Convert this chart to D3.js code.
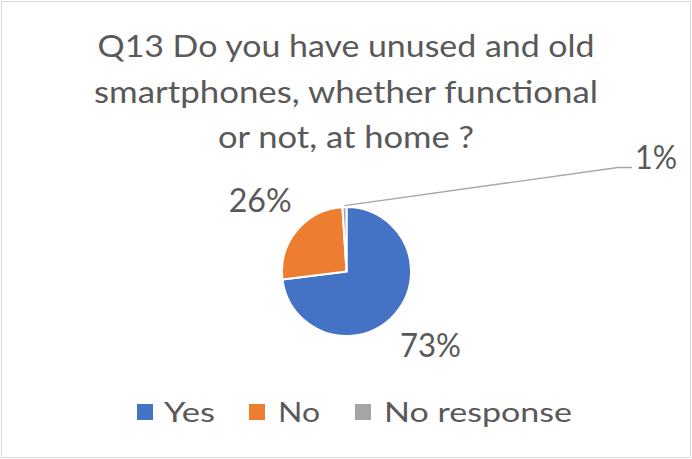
<!DOCTYPE html>
<html>
<head>
<meta charset="utf-8">
<script src="https://cdn.jsdelivr.net/npm/d3@7"></script>
<style>
  html, body { margin: 0; padding: 0; background: #fff; }
  svg { display: block; }
  text { font-family: Lato, "Open Sans", sans-serif; fill: #595959; }
</style>
</head>
<body>
<svg id="chart" width="692" height="459"></svg>
<script>
// ---- data ----
const categories = ["Yes", "No", "No response"];
const values = [73, 26, 1];
const labels = ["73%", "26%", "1%"];
const colors = ["#4472C4", "#ED7D31", "#A5A5A5"];
const titleLines = [
  "Q13 Do you have unused and old",
  "smartphones, whether functional",
  "or not, at home ?"
];

// ---- layout ----
const W = 692, H = 459;
const svg = d3.select("#chart");

svg.append("rect")
  .attr("x", 1.5).attr("y", 1.5)
  .attr("width", W - 3).attr("height", H - 3)
  .attr("fill", "#fff").attr("stroke", "#d9d9d9").attr("stroke-width", 1);

// title
const titleWidths = [497, 504, 256];
const titleBaselines = [57, 102.5, 148];
titleLines.forEach((t, i) => {
  svg.append("text")
    .attr("x", 346).attr("y", titleBaselines[i])
    .attr("text-anchor", "middle")
    .attr("font-size", 31)
    .attr("textLength", titleWidths[i])
    .attr("lengthAdjust", "spacingAndGlyphs")
    .text(t);
});

// pie
const cx = 346.5, cy = 271.5, R = 64.5;
const pie = d3.pie().sort(null).startAngle(0).endAngle(2 * Math.PI).value(d => d);
const arcs = pie(values);
const arc = d3.arc().innerRadius(0).outerRadius(R);
const g = svg.append("g").attr("transform", `translate(${cx},${cy})`);
g.selectAll("path").data(arcs).enter().append("path")
  .attr("d", arc)
  .attr("fill", (d, i) => colors[i])
  .attr("stroke", "#fff").attr("stroke-width", 2).attr("stroke-linejoin", "round");

// data labels
const labelR = 112;
const labelFont = 32;
const capH = labelFont * 0.72;
const labelWidths = [61, 63, 42];
arcs.forEach((d, i) => {
  const a = (d.startAngle + d.endAngle) / 2;
  if (i < 2) {
    const lx = Math.sin(a) * labelR, ly = -Math.cos(a) * labelR;
    g.append("text")
      .attr("x", lx).attr("y", ly + capH / 2)
      .attr("text-anchor", "middle")
      .attr("font-size", labelFont)
      .attr("textLength", labelWidths[i])
      .attr("lengthAdjust", "spacingAndGlyphs")
      .text(labels[i]);
  } else {
    // leader line to an offset label
    const r0 = R + 1.5;
    const sx = Math.sin(a) * r0, sy = -Math.cos(a) * r0;
    const ex = 618 - cx, ey = 167.5 - cy;
    const hx = 632 - cx;
    g.append("path")
      .attr("d", `M${sx},${sy}L${ex},${ey}L${hx},${ey}`)
      .attr("fill", "none").attr("stroke", "#a6a6a6").attr("stroke-width", 1.3);
    g.append("text")
      .attr("x", 635 - cx).attr("y", 169 - cy)
      .attr("font-size", labelFont)
      .attr("textLength", labelWidths[i])
      .attr("lengthAdjust", "spacingAndGlyphs")
      .text(labels[i]);
  }
});

// legend
const legendFont = 27;
const legendItems = [
  { sq: 137, tx: 164, w: 51 },
  { sq: 249, tx: 278, w: 42 },
  { sq: 355, tx: 384, w: 188 }
];
const leg = svg.append("g");
categories.forEach((c, i) => {
  const it = legendItems[i];
  leg.append("rect")
    .attr("x", it.sq).attr("y", 404)
    .attr("width", 16).attr("height", 16)
    .attr("fill", colors[i]);
  leg.append("text")
    .attr("x", it.tx).attr("y", 422)
    .attr("font-size", legendFont)
    .attr("textLength", it.w)
    .attr("lengthAdjust", "spacingAndGlyphs")
    .text(c);
});
</script>
</body>
</html>
